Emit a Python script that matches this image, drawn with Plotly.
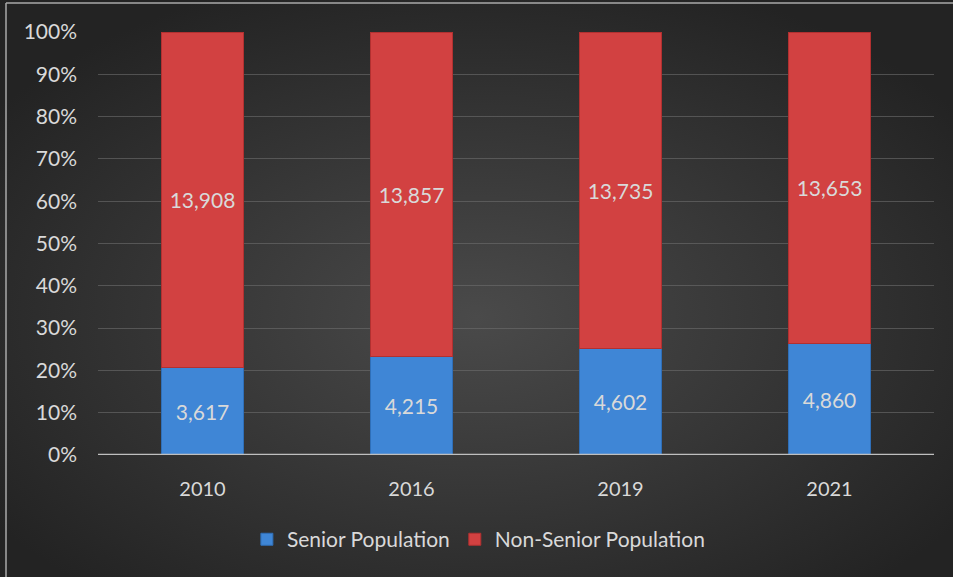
import base64
import plotly.graph_objects as go

years = ["2010", "2016", "2019", "2021"]
senior = [3617, 4215, 4602, 4860]
non_senior = [13908, 13857, 13735, 13653]
tick_vals = [0, 10, 20, 30, 40, 50, 60, 70, 80, 90, 100]
tick_text = [f"{v}%" for v in tick_vals]

W, H = 953, 577
L, R, T, B = 98, 19, 32, 122
FONT = "Lato, Open Sans, sans-serif"
TXT = "#d9d9d9"

svg = (
    '<svg xmlns="http://www.w3.org/2000/svg" width="953" height="577" viewBox="0 0 953 577" preserveAspectRatio="none">'
    '<defs><radialGradient id="g" cx="0.5" cy="0.55" r="0.62">'
    '<stop offset="0" stop-color="#4a4a4a"/><stop offset="1" stop-color="#232323"/>'
    '</radialGradient></defs><rect width="953" height="577" fill="url(#g)"/></svg>'
)
bg = "data:image/svg+xml;base64," + base64.b64encode(svg.encode()).decode()

fig = go.Figure()
fig.add_trace(go.Bar(
    x=years, y=senior, name="Senior Population",
    marker=dict(color="#3f86d6", line=dict(color="#2f6fb8", width=1)),
    text=[f"{v:,}" for v in senior], textposition="inside",
    insidetextanchor="middle", textfont=dict(color=TXT, size=21, family=FONT),
))
fig.add_trace(go.Bar(
    x=years, y=non_senior, name="Non-Senior Population",
    marker=dict(color="#d24141", line=dict(color="#b23030", width=1)),
    text=[f"{v:,}" for v in non_senior], textposition="inside",
    insidetextanchor="middle", textfont=dict(color=TXT, size=21, family=FONT),
))

pw = W - L - R
ph = H - T - B
fig.update_layout(
    width=W, height=H,
    barmode="stack", barnorm="percent", bargap=0.61,
    margin=dict(l=L, r=R, t=T, b=B),
    paper_bgcolor="#333333", plot_bgcolor="rgba(0,0,0,0)",
    font=dict(family=FONT, color=TXT, size=20),
    images=[dict(source=bg, xref="paper", yref="paper",
                 x=-L / pw, y=1 + T / ph, sizex=W / pw, sizey=H / ph,
                 xanchor="left", yanchor="top", sizing="stretch", layer="below")],
    xaxis=dict(showgrid=False, tickfont=dict(size=20, color=TXT), ticks="",
               ticklabelstandoff=20, showline=False, zeroline=False),
    yaxis=dict(range=[0, 100], tickvals=tick_vals, ticktext=tick_text,
               tickfont=dict(size=21, color=TXT), showgrid=True,
               gridcolor="rgba(110,110,110,0.6)", gridwidth=1, zeroline=False,
               showline=False, ticks="", ticklabelstandoff=20),
    legend=dict(orientation="h", x=0.455, xanchor="center", y=-0.2, yanchor="middle",
                font=dict(size=21, color=TXT), bgcolor="rgba(0,0,0,0)",
                itemwidth=30, traceorder="normal"),
    shapes=[
        dict(type="line", xref="paper", yref="y", x0=0, x1=1, y0=0, y1=0,
             line=dict(color="#bfbfbf", width=2.5), layer="above"),
        dict(type="line", xref="paper", yref="paper", x0=-(L - 6) / pw, x1=1 + R / pw,
             y0=1 + (T - 3) / ph, y1=1 + (T - 3) / ph, line=dict(color="#aaaaaa", width=1.5)),
        dict(type="line", xref="paper", yref="paper", x0=-(L - 6) / pw, x1=-(L - 6) / pw,
             y0=1 + (T - 3) / ph, y1=-B / ph, line=dict(color="#aaaaaa", width=1.5)),
    ],
)

fig.write_html("out.html", config={"displayModeBar": False},
               post_script="document.body.style.margin='0';")
